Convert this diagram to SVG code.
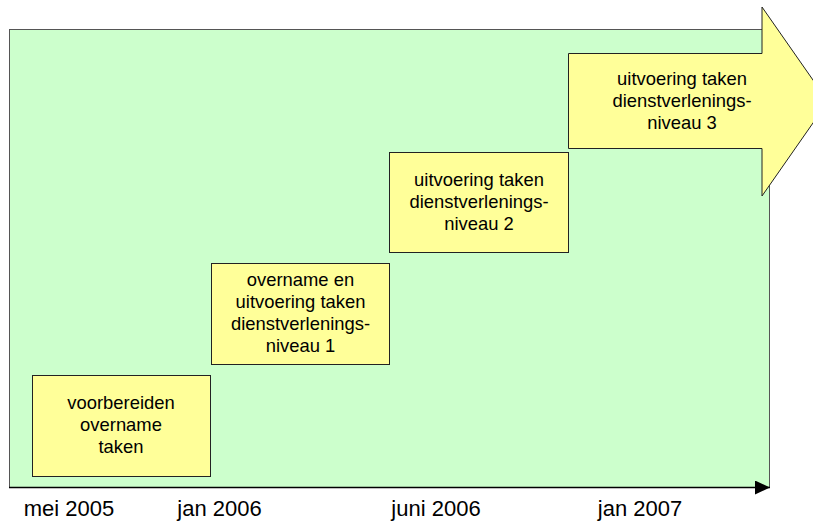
<svg xmlns="http://www.w3.org/2000/svg" width="813" height="522" viewBox="0 0 813 522">
  <style>
    .box { fill: #FFFF99; stroke: #222; stroke-width: 1; }
    .txt { font-family: "Liberation Sans", Arial, sans-serif; font-size: 18.4px; fill: #000; text-anchor: middle; }
    .lbl { font-family: "Liberation Sans", Arial, sans-serif; font-size: 22px; fill: #000; text-anchor: middle; }
  </style>
  <defs>
    <marker id="axisHead" markerWidth="15" markerHeight="14" refX="15" refY="7" orient="auto" markerUnits="userSpaceOnUse">
      <path d="M0,0 L15,7 L0,14 Z" fill="#000"/>
    </marker>
  </defs>

  <!-- background period area -->
  <g id="background">
    <rect x="9.5" y="29.5" width="760" height="458" fill="#CCFFCC" stroke="#555" stroke-width="1"/>
  </g>

  <!-- time axis -->
  <g id="connectors">
    <line x1="9" y1="487.5" x2="770" y2="487.5" stroke="#000" stroke-width="1.5" marker-end="url(#axisHead)"/>
  </g>

  <g id="phase1">
    <rect class="box" x="32.5" y="375.5" width="178" height="101"/>
    <text class="txt" x="121" y="409">voorbereiden</text>
    <text class="txt" x="121" y="431">overname</text>
    <text class="txt" x="121" y="453">taken</text>
  </g>

  <g id="phase2">
    <rect class="box" x="211.5" y="263.5" width="178" height="101"/>
    <text class="txt" x="300.5" y="286">overname en</text>
    <text class="txt" x="300.5" y="308">uitvoering taken</text>
    <text class="txt" x="300.5" y="330">dienstverlenings-</text>
    <text class="txt" x="300.5" y="352">niveau 1</text>
  </g>

  <g id="phase3">
    <rect class="box" x="389.5" y="152.5" width="179" height="100"/>
    <text class="txt" x="479" y="186">uitvoering taken</text>
    <text class="txt" x="479" y="208">dienstverlenings-</text>
    <text class="txt" x="479" y="230">niveau 2</text>
  </g>

  <g id="phase4">
    <path class="box" d="M568.5,53.5 L762,53.5 L762,7 L828,101.5 L762,196 L762,148.5 L568.5,148.5 Z"/>
    <text class="txt" x="682" y="85">uitvoering taken</text>
    <text class="txt" x="682" y="107">dienstverlenings-</text>
    <text class="txt" x="682" y="129">niveau 3</text>
  </g>

  <g id="dates">
    <text class="lbl" x="69" y="516">mei 2005</text>
    <text class="lbl" x="219.5" y="516">jan 2006</text>
    <text class="lbl" x="436" y="516">juni 2006</text>
    <text class="lbl" x="640" y="516">jan 2007</text>
  </g>
</svg>
